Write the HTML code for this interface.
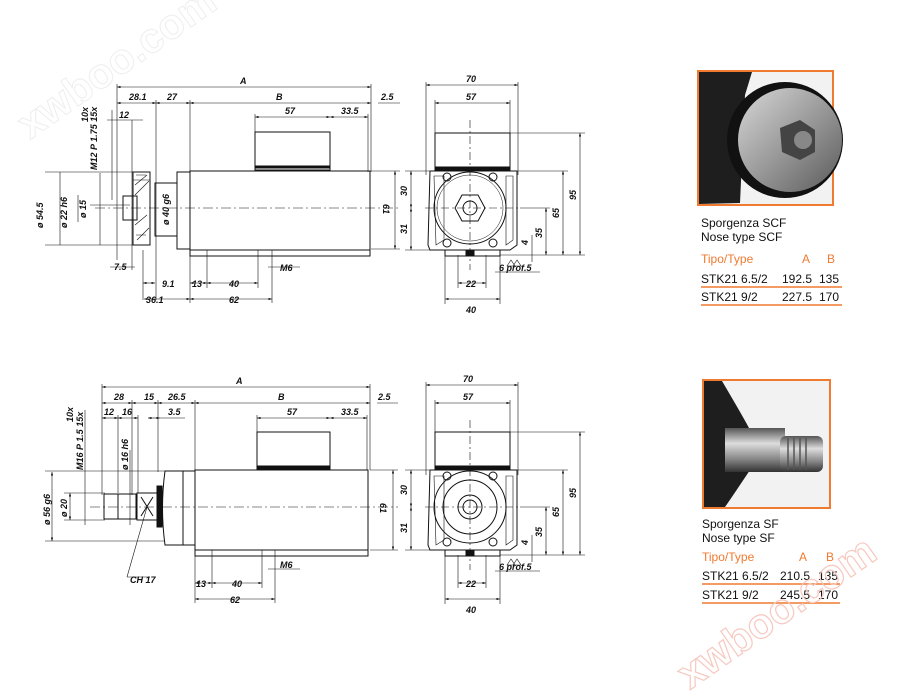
<!DOCTYPE html>
<html><head><meta charset="utf-8"><style>
html,body{margin:0;padding:0;background:#fff}
svg{display:block}
.t{font-family:"Liberation Sans",sans-serif;font-style:italic;font-weight:bold;font-size:9px;fill:#111}
.k{font-family:"Liberation Sans",sans-serif;font-size:12px;fill:#111}
.o{font-family:"Liberation Sans",sans-serif;font-size:12px;fill:#f07a30}
</style></head><body>
<svg width="900" height="700" viewBox="0 0 900 700" xmlns="http://www.w3.org/2000/svg">
<defs>
<marker id="a" markerWidth="6" markerHeight="4" refX="6" refY="2" orient="auto-start-reverse"><path d="M0,0L6,2L0,4z" fill="#111"/></marker>
<linearGradient id="g1" x1="0" y1="0" x2="1" y2="1"><stop offset="0" stop-color="#d8d8d8"/><stop offset=".5" stop-color="#9a9a9a"/><stop offset="1" stop-color="#5a5a5a"/></linearGradient>
<linearGradient id="g2" x1="0" y1="0" x2="0" y2="1"><stop offset="0" stop-color="#555"/><stop offset=".35" stop-color="#ddd"/><stop offset=".7" stop-color="#888"/><stop offset="1" stop-color="#333"/></linearGradient>
</defs>

<g stroke="#111" fill="none" stroke-width="1">
<!-- ===== TOP SIDE VIEW ===== -->
<g stroke-width="0.6" marker-start="url(#a)" marker-end="url(#a)">
<line x1="117" y1="87" x2="371" y2="87"/>
<line x1="117" y1="103" x2="156" y2="103"/><line x1="156" y1="103" x2="190" y2="103"/><line x1="190" y1="103" x2="371" y2="103"/>
<line x1="255" y1="117" x2="330" y2="117"/><line x1="330" y1="117" x2="368" y2="117"/>
<line x1="395" y1="171" x2="395" y2="249"/>
<line x1="190" y1="283" x2="207" y2="283"/><line x1="207" y1="283" x2="258" y2="283"/>
<line x1="190" y1="299" x2="272" y2="299"/><line x1="143" y1="283" x2="155" y2="283"/><line x1="144" y1="299" x2="190" y2="299"/>
</g>
<g stroke-width="0.6">
<line x1="117" y1="84" x2="117" y2="260"/><line x1="371" y1="84" x2="371" y2="172"/>
<line x1="156" y1="100" x2="156" y2="300"/><line x1="190" y1="100" x2="190" y2="303"/>
<line x1="255" y1="114" x2="255" y2="132"/><line x1="368" y1="114" x2="368" y2="172"/>
<line x1="378" y1="103" x2="400" y2="103"/><line x1="371" y1="171" x2="400" y2="171"/><line x1="371" y1="249" x2="400" y2="249"/>
<line x1="107" y1="120" x2="143" y2="120"/><line x1="132" y1="120" x2="132" y2="270"/><line x1="143" y1="250" x2="143" y2="300"/>
<line x1="207" y1="250" x2="207" y2="288"/><line x1="258" y1="250" x2="258" y2="288"/><line x1="272" y1="250" x2="272" y2="303"/>
<line x1="110" y1="267" x2="135" y2="267"/><line x1="268" y1="267" x2="300" y2="267"/>
<line x1="100" y1="173" x2="100" y2="245"/><line x1="90" y1="205" x2="130" y2="205"/>
<line x1="45" y1="172" x2="150" y2="172"/><line x1="45" y1="245" x2="150" y2="245"/>
<line x1="60" y1="172" x2="60" y2="245"/><line x1="78" y1="195" x2="78" y2="222"/><line x1="112" y1="110" x2="112" y2="200"/>
</g>
<rect x="255" y="132" width="75" height="38"/><line x1="255" y1="167" x2="330" y2="167" stroke-width="3"/>
<rect x="190" y="171" width="180" height="79"/><rect x="177" y="172" width="13" height="77"/>
<rect x="155" y="183" width="22" height="53"/>
<rect x="190" y="250" width="180" height="6"/>
<rect x="133" y="172" width="17" height="73"/><rect x="123" y="196" width="14" height="24"/>
<path d="M133,180 l17,0 M136,175 l10,0 M136,235 l10,0 M135,185 l12,-10 M135,195 l14,-14 M135,225 l12,-10 M137,240 l12,-12" stroke-width="0.6"/>
<line x1="95" y1="208" x2="400" y2="208" stroke-width="0.5" stroke-dasharray="10,3,2,3"/>

<!-- ===== TOP FRONT VIEW ===== -->
<g stroke-width="0.6" marker-start="url(#a)" marker-end="url(#a)">
<line x1="426" y1="85" x2="518" y2="85"/><line x1="435" y1="103" x2="510" y2="103"/>
<line x1="580" y1="133" x2="580" y2="255"/><line x1="563" y1="171" x2="563" y2="255"/><line x1="546" y1="208" x2="546" y2="255"/>
<line x1="411" y1="171" x2="411" y2="208"/><line x1="411" y1="208" x2="411" y2="250"/>
<line x1="458" y1="283" x2="486" y2="283"/><line x1="445" y1="299" x2="500" y2="299"/>
</g>
<g stroke-width="0.6">
<line x1="426" y1="82" x2="426" y2="175"/><line x1="518" y1="82" x2="518" y2="175"/>
<line x1="435" y1="100" x2="435" y2="133"/><line x1="510" y1="100" x2="510" y2="133"/>
<line x1="510" y1="133" x2="585" y2="133"/><line x1="518" y1="171" x2="568" y2="171"/><line x1="520" y1="208" x2="550" y2="208"/><line x1="500" y1="255" x2="585" y2="255"/>
<line x1="405" y1="171" x2="430" y2="171"/><line x1="405" y1="250" x2="430" y2="250"/>
<line x1="458" y1="255" x2="458" y2="288"/><line x1="486" y1="255" x2="486" y2="288"/><line x1="445" y1="255" x2="445" y2="304"/><line x1="500" y1="255" x2="500" y2="304"/>
<line x1="532" y1="235" x2="532" y2="262"/><line x1="495" y1="272" x2="540" y2="272"/>
<line x1="470" y1="120" x2="470" y2="270" stroke-dasharray="8,3,2,3"/><line x1="425" y1="208" x2="520" y2="208" stroke-dasharray="8,3,2,3"/>
</g>
<rect x="435" y="133" width="75" height="37"/><line x1="435" y1="168" x2="510" y2="168" stroke-width="3"/>
<path d="M430,171 L517,171 L517,245 L510,250 L430,250 L428,245 Z"/>
<path d="M434,176 L444,176 L444,240 L436,245 Z M506,176 L513,176 L513,240 L506,245Z" stroke-width="0.6"/>
<circle cx="470" cy="208" r="36"/><circle cx="470" cy="208" r="33" stroke-width="0.5"/>
<polygon points="455,208 462,195 478,195 485,208 478,221 462,221"/>
<circle cx="470" cy="208" r="7"/>
<circle cx="447" cy="177" r="4"/><circle cx="493" cy="177" r="4"/><circle cx="447" cy="243" r="4"/><circle cx="493" cy="243" r="4"/>
<rect x="445" y="250" width="55" height="6"/><rect x="466" y="250" width="8" height="6" fill="#111"/>
<path d="M507,266 l4,-6 l4,6 z M513,266 l4,-6 l4,6z" stroke-width="0.6"/>

<!-- ===== BOTTOM SIDE VIEW ===== -->
<g stroke-width="0.6" marker-start="url(#a)" marker-end="url(#a)">
<line x1="102" y1="387" x2="370" y2="387"/>
<line x1="102" y1="403" x2="132" y2="403"/><line x1="132" y1="403" x2="158" y2="403"/><line x1="158" y1="403" x2="195" y2="403"/><line x1="195" y1="403" x2="370" y2="403"/>
<line x1="102" y1="418" x2="118" y2="418"/><line x1="118" y1="418" x2="138" y2="418"/><line x1="148" y1="418" x2="160" y2="418"/>
<line x1="257" y1="418" x2="330" y2="418"/><line x1="330" y1="418" x2="367" y2="418"/>
<line x1="393" y1="470" x2="393" y2="550"/>
<line x1="195" y1="583" x2="212" y2="583"/><line x1="212" y1="583" x2="262" y2="583"/><line x1="195" y1="599" x2="275" y2="599"/>
<line x1="52" y1="472" x2="52" y2="541"/><line x1="70" y1="493" x2="70" y2="520"/>
</g>
<g stroke-width="0.6">
<line x1="102" y1="384" x2="102" y2="495"/><line x1="370" y1="384" x2="370" y2="470"/>
<line x1="132" y1="400" x2="132" y2="495"/><line x1="158" y1="400" x2="158" y2="472"/><line x1="195" y1="400" x2="195" y2="603"/>
<line x1="118" y1="415" x2="118" y2="493"/><line x1="138" y1="415" x2="138" y2="493"/><line x1="185" y1="418" x2="160" y2="418"/>
<line x1="257" y1="415" x2="257" y2="432"/><line x1="367" y1="415" x2="367" y2="470"/><line x1="377" y1="403" x2="398" y2="403"/>
<line x1="370" y1="470" x2="398" y2="470"/><line x1="370" y1="550" x2="398" y2="550"/>
<line x1="45" y1="471" x2="165" y2="471"/><line x1="45" y1="541" x2="165" y2="541"/>
<line x1="64" y1="493" x2="105" y2="493"/><line x1="64" y1="520" x2="105" y2="520"/>
<line x1="85" y1="410" x2="85" y2="525"/><line x1="130" y1="450" x2="130" y2="525"/>
<line x1="212" y1="550" x2="212" y2="588"/><line x1="262" y1="550" x2="262" y2="588"/><line x1="275" y1="550" x2="275" y2="603"/>
<line x1="268" y1="569" x2="300" y2="569"/>
<line x1="147" y1="507" x2="127" y2="577"/><line x1="127" y1="577" x2="150" y2="577"/>
</g>
<rect x="257" y="432" width="73" height="37"/><line x1="257" y1="467" x2="330" y2="467" stroke-width="3"/>
<rect x="195" y="470" width="173" height="80"/><rect x="183" y="471" width="12" height="74"/>
<path d="M165,471 L183,471 L183,545 L165,545 Q160,508 165,471Z"/>
<rect x="195" y="550" width="173" height="6"/>
<rect x="104" y="494" width="32" height="25"/><line x1="118" y1="494" x2="118" y2="519"/>
<rect x="137" y="493" width="20" height="27"/><path d="M141,497 l12,19 M153,497 l-12,19"/>
<rect x="157" y="486" width="5" height="41" fill="#111"/>
<line x1="90" y1="507" x2="398" y2="507" stroke-width="0.5" stroke-dasharray="10,3,2,3"/>

<!-- ===== BOTTOM FRONT VIEW ===== -->
<g stroke-width="0.6" marker-start="url(#a)" marker-end="url(#a)">
<line x1="426" y1="385" x2="518" y2="385"/><line x1="435" y1="403" x2="510" y2="403"/>
<line x1="580" y1="432" x2="580" y2="555"/><line x1="563" y1="470" x2="563" y2="555"/><line x1="546" y1="507" x2="546" y2="555"/>
<line x1="411" y1="470" x2="411" y2="507"/><line x1="411" y1="507" x2="411" y2="550"/>
<line x1="458" y1="583" x2="486" y2="583"/><line x1="445" y1="599" x2="500" y2="599"/>
</g>
<g stroke-width="0.6">
<line x1="426" y1="382" x2="426" y2="475"/><line x1="518" y1="382" x2="518" y2="475"/>
<line x1="435" y1="400" x2="435" y2="432"/><line x1="510" y1="400" x2="510" y2="432"/>
<line x1="510" y1="432" x2="585" y2="432"/><line x1="518" y1="470" x2="568" y2="470"/><line x1="520" y1="507" x2="550" y2="507"/><line x1="500" y1="555" x2="585" y2="555"/>
<line x1="405" y1="470" x2="430" y2="470"/><line x1="405" y1="550" x2="430" y2="550"/>
<line x1="458" y1="555" x2="458" y2="588"/><line x1="486" y1="555" x2="486" y2="588"/><line x1="445" y1="555" x2="445" y2="604"/><line x1="500" y1="555" x2="500" y2="604"/>
<line x1="532" y1="535" x2="532" y2="562"/><line x1="495" y1="571" x2="540" y2="571"/>
<line x1="470" y1="420" x2="470" y2="570" stroke-dasharray="8,3,2,3"/><line x1="425" y1="507" x2="520" y2="507" stroke-dasharray="8,3,2,3"/>
</g>
<rect x="435" y="432" width="75" height="37"/><line x1="435" y1="467" x2="510" y2="467" stroke-width="3"/>
<path d="M430,470 L517,470 L517,545 L510,550 L430,550 L428,545 Z"/>
<path d="M434,476 L444,476 L444,540 L436,545 Z M506,476 L513,476 L513,540 L506,545Z" stroke-width="0.6"/>
<circle cx="470" cy="507" r="36"/><circle cx="470" cy="507" r="27"/><circle cx="470" cy="507" r="12"/><circle cx="470" cy="507" r="7"/>
<circle cx="447" cy="476" r="4"/><circle cx="493" cy="476" r="4"/><circle cx="447" cy="542" r="4"/><circle cx="493" cy="542" r="4"/>
<rect x="445" y="550" width="55" height="6"/><rect x="466" y="550" width="8" height="6" fill="#111"/>
<path d="M507,565 l4,-6 l4,6 z M513,565 l4,-6 l4,6z" stroke-width="0.6"/>
</g>

<!-- labels top -->
<text class="t" x="240" y="84">A</text><text class="t" x="129" y="100">28.1</text><text class="t" x="167" y="100">27</text>
<text class="t" x="276" y="100">B</text><text class="t" x="381" y="100">2.5</text>
<text class="t" x="285" y="114">57</text><text class="t" x="341" y="114">33.5</text><text class="t" x="119" y="118">12</text>
<text class="t" x="114" y="270">7.5</text><text class="t" x="162" y="287">9.1</text><text class="t" x="146" y="303">36.1</text>
<text class="t" x="192" y="287">13</text><text class="t" x="229" y="287">40</text><text class="t" x="229" y="303">62</text><text class="t" x="280" y="271">M6</text>
<text class="t" transform="translate(383,204) rotate(90)">61</text>
<text class="t" transform="translate(97,170) rotate(-90)">M12 P 1.75 15x</text>
<text class="t" transform="translate(88,122) rotate(-90)">10x</text>
<text class="t" transform="translate(43,228) rotate(-90)">ø 54.5</text>
<text class="t" transform="translate(67,228) rotate(-90)">ø 22 h6</text>
<text class="t" transform="translate(86,218) rotate(-90)">ø 15</text>
<text class="t" transform="translate(169,225) rotate(-90)">ø 40 g6</text>
<text class="t" x="466" y="82">70</text><text class="t" x="466" y="100">57</text>
<text class="t" transform="translate(576,200) rotate(-90)">95</text><text class="t" transform="translate(559,218) rotate(-90)">65</text>
<text class="t" transform="translate(542,238) rotate(-90)">35</text><text class="t" transform="translate(528,245) rotate(-90)">4</text>
<text class="t" transform="translate(407,196) rotate(-90)">30</text><text class="t" transform="translate(407,234) rotate(-90)">31</text>
<text class="t" x="499" y="271">6 prof.5</text><text class="t" x="466" y="287">22</text><text class="t" x="466" y="313">40</text>

<!-- labels bottom -->
<text class="t" x="236" y="384">A</text><text class="t" x="114" y="400">28</text><text class="t" x="144" y="400">15</text>
<text class="t" x="168" y="400">26.5</text><text class="t" x="278" y="400">B</text><text class="t" x="378" y="400">2.5</text>
<text class="t" x="104" y="415">12</text><text class="t" x="122" y="415">16</text><text class="t" x="168" y="415">3.5</text>
<text class="t" x="287" y="415">57</text><text class="t" x="341" y="415">33.5</text>
<text class="t" x="196" y="587">13</text><text class="t" x="232" y="587">40</text><text class="t" x="230" y="603">62</text><text class="t" x="280" y="568">M6</text>
<text class="t" x="130" y="583">CH 17</text>
<text class="t" transform="translate(380,503) rotate(90)">61</text>
<text class="t" transform="translate(83,470) rotate(-90)">M16 P 1.5 15x</text>
<text class="t" transform="translate(73,422) rotate(-90)">10x</text>
<text class="t" transform="translate(50,525) rotate(-90)">ø 56 g6</text>
<text class="t" transform="translate(67,517) rotate(-90)">ø 20</text>
<text class="t" transform="translate(128,470) rotate(-90)">ø 16 h6</text>
<text class="t" x="463" y="382">70</text><text class="t" x="463" y="400">57</text>
<text class="t" transform="translate(576,498) rotate(-90)">95</text><text class="t" transform="translate(559,517) rotate(-90)">65</text>
<text class="t" transform="translate(542,537) rotate(-90)">35</text><text class="t" transform="translate(528,545) rotate(-90)">4</text>
<text class="t" transform="translate(407,495) rotate(-90)">30</text><text class="t" transform="translate(407,533) rotate(-90)">31</text>
<text class="t" x="499" y="570">6 prof.5</text><text class="t" x="466" y="587">22</text><text class="t" x="466" y="613">40</text>

<!-- photo top -->
<rect x="698" y="71" width="135" height="134" fill="#f2f2f2" stroke="#f07a30" stroke-width="2"/>
<path d="M699,72 L752,72 L745,95 L740,203 L699,204Z" fill="#1e1e1e"/>
<circle cx="785" cy="140" r="58" fill="#111"/>
<circle cx="790" cy="140" r="52" fill="url(#g1)"/>
<polygon points="780,128 800,120 815,130 815,152 800,160 782,152" fill="#444"/>
<circle cx="803" cy="140" r="9" fill="#888"/>

<text class="k" x="701" y="227">Sporgenza SCF</text><text class="k" x="701" y="241">Nose type SCF</text>
<text class="o" x="701" y="263">Tipo/Type</text><text class="o" x="802" y="263">A</text><text class="o" x="827" y="263">B</text>
<text class="k" x="701" y="283">STK21 6.5/2</text><text class="k" x="782" y="283">192.5</text><text class="k" x="819" y="283">135</text>
<line x1="701" y1="287" x2="842" y2="287" stroke="#f07a30" stroke-width="1.5"/>
<text class="k" x="701" y="301">STK21 9/2</text><text class="k" x="782" y="301">227.5</text><text class="k" x="819" y="301">170</text>
<line x1="701" y1="305" x2="842" y2="305" stroke="#f07a30" stroke-width="1.5"/>

<!-- photo bottom -->
<rect x="703" y="380" width="127" height="128" fill="#f2f2f2" stroke="#f07a30" stroke-width="2"/>
<path d="M704,381 L722,381 Q745,420 750,430 L750,470 Q730,500 725,507 L704,507Z" fill="#1e1e1e"/>
<rect x="725" y="428" width="60" height="44" fill="url(#g2)"/>
<rect x="780" y="436" width="43" height="36" rx="6" fill="url(#g2)"/>
<path d="M788,438 v32 M794,438 v32 M800,438 v32 M806,438 v32" stroke="#555" stroke-width="1.5"/>

<text class="k" x="702" y="528">Sporgenza SF</text><text class="k" x="702" y="542">Nose type SF</text>
<text class="o" x="702" y="561">Tipo/Type</text><text class="o" x="799" y="561">A</text><text class="o" x="826" y="561">B</text>
<text class="k" x="702" y="580">STK21 6.5/2</text><text class="k" x="780" y="580">210.5</text><text class="k" x="818" y="580">135</text>
<line x1="702" y1="584" x2="840" y2="584" stroke="#f07a30" stroke-width="1.5"/>
<text class="k" x="702" y="599">STK21 9/2</text><text class="k" x="780" y="599">245.5</text><text class="k" x="818" y="599">170</text>
<line x1="702" y1="603" x2="840" y2="603" stroke="#f07a30" stroke-width="1.5"/>

<!-- faint watermarks -->
<text transform="translate(30,140) rotate(-35)" font-family="Liberation Sans,sans-serif" font-size="42" font-weight="bold" fill="none" stroke="#eee" stroke-width="1">xwboo.com</text>
<text transform="translate(690,690) rotate(-35)" font-family="Liberation Sans,sans-serif" font-size="42" font-weight="bold" fill="none" stroke="#f6c9c0" stroke-width="1.2">xwboo.com</text>
</svg>
</body></html>
